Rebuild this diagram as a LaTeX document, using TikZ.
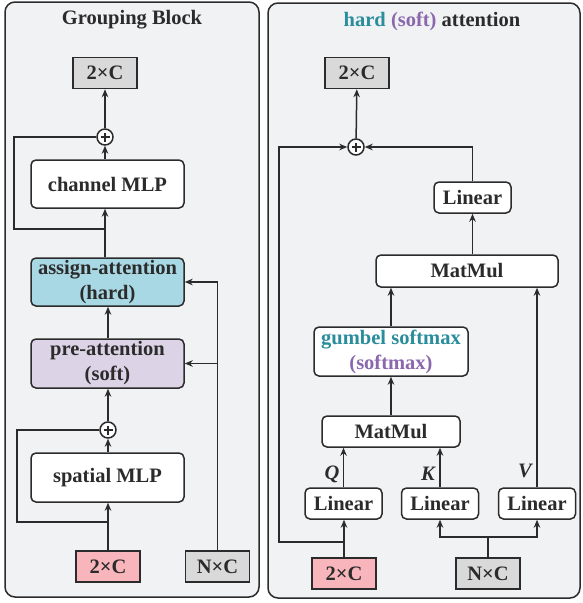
\documentclass[tikz,border=0pt]{standalone}
\usepackage{fontspec}
\setmainfont{Liberation Serif}
\usetikzlibrary{arrows.meta}
\definecolor{panel}{HTML}{F1F2F4}
\definecolor{edge}{HTML}{2B2B2B}
\definecolor{boxgray}{HTML}{D9D9D9}
\definecolor{boxpink}{HTML}{F8B6BC}
\definecolor{boxblue}{HTML}{A9D8E5}
\definecolor{boxpurple}{HTML}{DCD3E6}
\definecolor{txtteal}{HTML}{2A8D9C}
\definecolor{txtpurple}{HTML}{8B68AE}
\begin{document}
\begin{tikzpicture}[x=1pt,y=-1pt,
  font=\fontsize{20.5}{25}\selectfont\bfseries,
  line width=1.5pt, draw=edge,
  >={Stealth[length=8pt,width=6.5pt]},
  rbox/.style={draw=edge, rounded corners=5pt, fill=white, inner sep=0pt, align=center, text=edge},
  sqbox/.style={draw=edge, inner sep=0pt, minimum width=64pt, minimum height=31pt, text=edge},
  plusnode/.style={draw=edge, circle, fill=white, minimum size=16pt, inner sep=0pt,
    path picture={\draw[line width=1.3pt,edge] (path picture bounding box.center) ++(-4.5pt,0) -- ++(9pt,0);
                  \draw[line width=1.3pt,edge] (path picture bounding box.center) ++(0,-4.5pt) -- ++(0,9pt);}},
  panelbox/.style={draw=edge, rounded corners=10pt, fill=panel, line width=1.5pt},
  qkv/.style={text=edge, font=\fontsize{20.5}{25}\selectfont\bfseries\itshape}
]
\useasboundingbox (0,0) rectangle (582,603);
% panels
\draw[panelbox] (5,2) rectangle (259,597);
\draw[panelbox] (268,3) rectangle (580,598);

% ---------- left panel ----------
\node[text=edge] (ltitle) at (132,20) {Grouping Block};
\node[sqbox, fill=boxgray] (lout) at (105,73) {2×C};
\node[plusnode] (lp1) at (105,137) {};
\node[rbox, minimum width=153pt, minimum height=48pt] (cmlp) at (107.5,184) {channel MLP};
\node[rbox, fill=boxblue, minimum width=153pt, minimum height=48pt] (assign) at (107.5,282) {assign-attention\\(hard)};
\node[rbox, fill=boxpurple, minimum width=153pt, minimum height=49pt] (pre) at (107.5,363.5) {pre-attention\\(soft)};
\node[plusnode] (lp2) at (108,430) {};
\node[rbox, minimum width=153pt, minimum height=49pt] (smlp) at (107.5,477.5) {spatial MLP};
\node[sqbox, fill=boxpink] (lin2c) at (108,566.5) {2×C};
\node[sqbox, fill=boxgray] (lnc) at (217.5,566.5) {N×C};

\draw[->] (lp1) -- (lout);
\draw[->] (cmlp.north -| lp1) -- (lp1);
\draw[->] (assign.north -| lp1) -- (cmlp.south -| lp1);
\coordinate (ls1) at (105,229);
\coordinate (lk1) at (14,137);
\draw (ls1) -| (lk1) -- (lp1);
\draw[->] (pre.north -| lp2) -- (assign.south -| lp2);
\draw[->] (lp2) -- (pre.south -| lp2);
\draw[->] (smlp.north -| lp2) -- (lp2);
\draw[->] (lin2c.north) -- (smlp.south -| lin2c);
\coordinate (ls2) at (108,522);
\coordinate (lk2) at (17,430);
\draw (ls2) -| (lk2) -- (lp2);
\draw[->] (lnc.north) |- (assign.east);
\draw[->] (lnc.north |- pre.east) -- (pre.east);

% ---------- right panel ----------
\node[text=edge] (rtitle) at (432,21) {\textcolor{txtteal}{hard} \textcolor{txtpurple}{(soft)} attention};
\node[sqbox, fill=boxgray] (rout) at (357,73) {2×C};
\node[plusnode] (rp) at (356,147) {};
\node[rbox, minimum width=77pt, minimum height=31pt] (rlin) at (472.5,197.5) {Linear};
\node[rbox, minimum width=182pt, minimum height=32pt] (mm1) at (467,271) {MatMul};
\node[rbox, minimum width=154pt, minimum height=49pt] (gum) at (391,351.5) {\textcolor{txtteal}{gumbel softmax}\\\textcolor{txtpurple}{(softmax)}};
\node[rbox, minimum width=138pt, minimum height=31pt] (mm2) at (391,431.5) {MatMul};
\node[rbox, minimum width=77pt, minimum height=31pt] (lq) at (343.5,503.5) {Linear};
\node[rbox, minimum width=77pt, minimum height=31pt] (lk) at (440,503.5) {Linear};
\node[rbox, minimum width=77pt, minimum height=31pt] (lv) at (537,503.5) {Linear};
\node[sqbox, fill=boxpink] (r2c) at (344,573.5) {2×C};
\node[sqbox, fill=boxgray] (rnc) at (488,573.5) {N×C};
\node[qkv] (qlab) at (332,474) {Q};
\node[qkv] (klab) at (428,474) {K};
\node[qkv] (vlab) at (525,471) {V};

\draw[->] (rp) -- (rout);
\draw[->] (rlin.north) |- (rp.east);
\draw[->] (mm1.north -| rlin) -- (rlin.south);
\draw[->] (gum.north) -- (gum.north |- mm1.south);
\draw[->] (lv.north) -- (lv.north |- mm1.south);
\draw[->] (mm2.north) -- (gum.south);
\draw[->] (lq.north) -- (lq.north |- mm2.south);
\draw[->] (lk.north) -- (lk.north |- mm2.south);
\draw[->] (r2c.north) -- (lq.south -| r2c);
\coordinate (rs) at (344,542);
\coordinate (rk) at (279,147);
\draw[->] (rs) -| (rk) -- (rp.west);
\coordinate (rj) at (488,537);
\draw (rnc.north) -- (rj);
\draw[->] (rj) -| (lk.south);
\draw[->] (rj) -| (lv.south);
\end{tikzpicture}
\end{document}
